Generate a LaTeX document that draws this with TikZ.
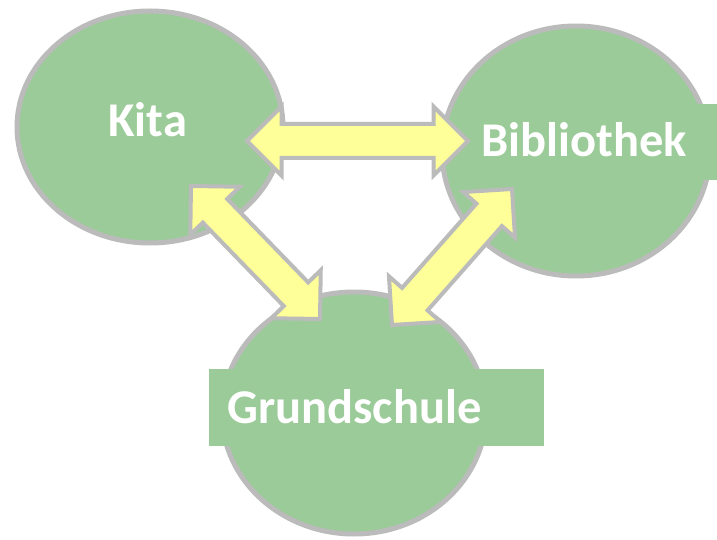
\documentclass[tikz,border=0pt]{standalone}
\usepackage{fontspec}
\setmainfont{Carlito}
\usetikzlibrary{shapes.geometric,shapes.arrows,calc}
\definecolor{fillgreen}{RGB}{155,203,152}
\definecolor{rimgrey}{RGB}{187,187,187}
\definecolor{arrowyellow}{RGB}{255,255,153}
\tikzset{
  place/.style={ellipse, draw=rimgrey, line width=5pt, fill=fillgreen, inner sep=0pt},
  placename/.style={text=white, font=\fontsize{48.5}{58}\selectfont\bfseries, inner sep=0pt},
  bothway/.style={double arrow, draw=rimgrey, fill=arrowyellow, line width=4pt,
    inner xsep=0pt, inner ysep=15pt, double arrow head extend=17.5pt, double arrow tip angle=90}
}
\newcommand{\bothways}[2]{%
  \path let \p1=($(#2)-(#1)$), \n1={atan2(\y1,\x1)}, \n2={veclen(\x1,\y1)} in
    node[bothway, minimum height=\n2, rotate=\n1] (#1#2) at ($(#1)!0.5!(#2)$) {};}
\begin{document}
\begin{tikzpicture}[x=1pt, y=-1pt]
\useasboundingbox (0,0) rectangle (717,540);
\clip (0,0) rectangle (717,540);
% the three places
\node [place, minimum width=266pt, minimum height=232pt] (kita) at (150,127) {};
\node [place, minimum width=268pt, minimum height=250pt] (biblio) at (576,151) {};
\node [place, minimum width=264pt, minimum height=242pt] (grund) at (354,413) {};
\fill [fillgreen] (470,104) rectangle (730,180);
\fill [fillgreen] (209,369) rectangle (544,446);
\node [placename, anchor=base west] (kitaname) at (108,137) {Kita};
\node [placename, anchor=base west] (biblioname) at (481,157) {Bibliothek};
\node [placename, anchor=base west] (grundname) at (227,423) {Grundschule};
% arrow ends
\coordinate (kb) at (247,141);
\coordinate (bk) at (468,141);
\coordinate (kg) at (191,186);
\coordinate (gk) at (320,319);
\coordinate (bg) at (512,189);
\coordinate (gb) at (392,325);
\bothways{kb}{bk}
\bothways{kg}{gk}
\bothways{bg}{gb}
\end{tikzpicture}
\end{document}
